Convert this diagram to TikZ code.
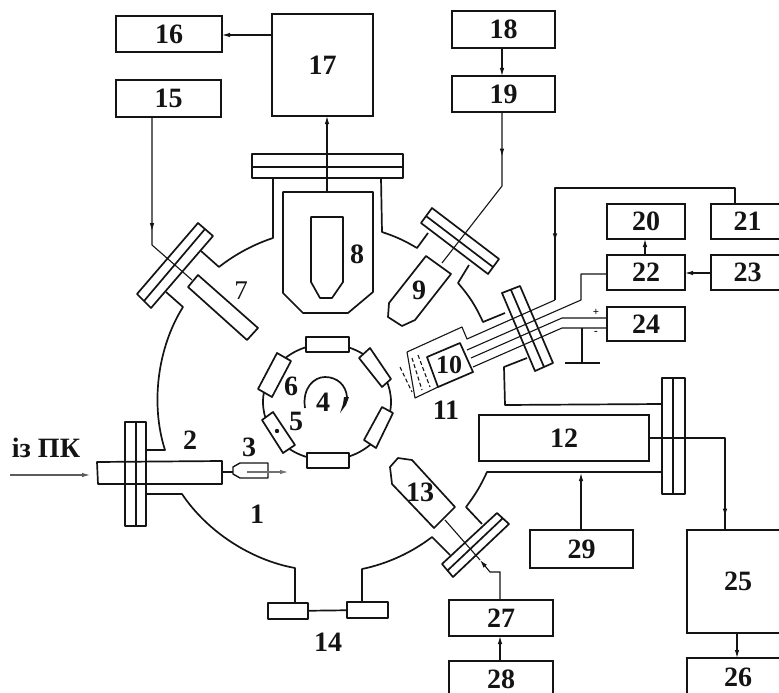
\documentclass[tikz,border=0pt]{standalone}
\usepackage{fontspec}
\setmainfont{Liberation Serif}
\usetikzlibrary{arrows.meta,decorations.markings}
\definecolor{ink}{gray}{0.08}
\tikzset{
  wall/.style={draw=ink,line width=1.7pt,line join=round},
  thinw/.style={draw=ink,line width=1.1pt,line join=round},
  blk/.style={draw=ink,line width=2pt,rectangle,inner sep=0pt,outer sep=0pt,font=\fontsize{28}{28}\selectfont\bfseries,text=ink},
  lab/.style={inner sep=0pt,font=\fontsize{28}{28}\selectfont\bfseries,text=ink},
  tip/.style={-{Latex[length=8pt,width=4.5pt]},draw=ink,line width=1.1pt},
  midtip/.style={draw=ink,line width=1.1pt,line join=round,postaction={decorate},decoration={markings,mark=at position #1 with {\arrow{Latex[length=8pt,width=4.5pt]}}}},
  holder/.style={wall,fill=white}
}
\begin{document}
\begin{tikzpicture}[x=1pt,y=-1pt]
\useasboundingbox (0,0) rectangle (779,693);
% blocks
\node[blk,minimum width=106pt,minimum height=36pt] (b16) at (169,34) {16};
\node[blk,minimum width=105pt,minimum height=37pt] (b15) at (168.5,98.5) {15};
\node[blk,minimum width=101pt,minimum height=102pt] (b17) at (322.5,65) {17};
\node[blk,minimum width=103pt,minimum height=37pt] (b18) at (503.5,29.5) {18};
\node[blk,minimum width=103pt,minimum height=36pt] (b19) at (503.5,94) {19};
\node[blk,minimum width=78pt,minimum height=35pt] (b20) at (646,221.5) {20};
\node[blk,minimum width=78pt,minimum height=35pt] (b22) at (646,272.5) {22};
\node[blk,minimum width=78pt,minimum height=34pt] (b24) at (646,324) {24};
\node[blk,minimum width=73pt,minimum height=35pt] (b21) at (747.5,221.5) {21};
\node[blk,minimum width=73pt,minimum height=35pt] (b23) at (747.5,272.5) {23};
\node[blk,minimum width=103pt,minimum height=38pt] (b29) at (581.5,549) {29};
\node[blk,minimum width=104pt,minimum height=36pt] (b27) at (501,618) {27};
\node[blk,minimum width=104pt,minimum height=36pt] (b28) at (501,679) {28};
\node[blk,minimum width=102pt,minimum height=103pt] (b25) at (738,581.5) {25};
\node[blk,minimum width=102pt,minimum height=39pt] (b26) at (738,677.5) {26};
\node[blk,minimum width=170pt,minimum height=46pt] (b12) at (564,438) {12};

% flanges
\draw[wall] (252,154) rectangle (403,178) (252,167)--(403,167);
\draw[wall] (662,378) rectangle (685,494) (673,378)--(673,494);
\draw[wall] (125,422) rectangle (146,526) (136,422)--(136,526);
\draw[wall] (198,223)--(213,236)--(151,308)--(137,294)--cycle (205,229)--(144,301);
\draw[wall] (432,208)--(499,259)--(488,274)--(421,223)--cycle (426,216)--(493,267);
\draw[wall] (502,293)--(520,286)--(553,363)--(535,371)--cycle (511,290)--(544,367);
\draw[wall] (497,513)--(509,524)--(453,577)--(442,564)--cycle (503,518)--(447,571);

% chamber walls
\draw[wall] (273,179)--(273,238) to[bend right=10,looseness=.85] (219,267)--(201,251);
\draw[wall] (166,292)--(183,307) to[bend right=25,looseness=.85] (165,450)--(147,450);
\draw[wall] (147,494)--(182,494) to[bend right=23,looseness=.85] (295,568)--(295,602);
\draw[wall] (362,602)--(362,569) to[bend right=13,looseness=.85] (432,537)--(450,555);
\draw[wall] (482,524)--(466,507) to[bend right=6] (487,472)--(662,472);
\draw[wall] (662,404)--(505,405)--(504,367)--(527,358);
\draw[wall] (505,313)--(483,322) to[bend right=8] (458,283)--(469,265);
\draw[wall] (428,233)--(417,248) to[bend right=6] (382,232)--(381,178);

% port 14
\node[wall,rectangle,minimum width=40pt,minimum height=16pt,inner sep=0pt,outer sep=0pt] (p14a) at (288,611) {};
\node[wall,rectangle,minimum width=41pt,minimum height=16pt,inner sep=0pt,outer sep=0pt] (p14b) at (367.5,610) {};
\draw[wall] (p14a)--(p14b);

% inner parts
\draw[wall] (283,192)--(373,192)--(373,292)--(348,313)--(303,313)--(283,293)--cycle;
\draw[wall] (311,217)--(343,217)--(343,282)--(332,298)--(320,298)--(311,282)--cycle;
\draw[wall] (198,275)--(258,328)--(247,340)--(188,287)--cycle;
\draw[wall] (426,256)--(451,274)--(415,320)--(402,326)--(388,317)--(389,303)--cycle;
\draw[wall] (412,460)--(455,507)--(434,528)--(392,484)--(390,467)--(398,458)--cycle;

% source 2 and 3
\draw[wall] (97,462)--(222,461)--(222,484)--(98,484)--cycle;
\draw[wall] (222,472)--(233,472);
\draw[wall,line width=1.4pt] (233,467)--(240,463)--(268,463)--(268,478)--(240,478)--(233,474)--cycle;
\draw[tip,draw=ink!60] (247,472)--(288,472);
\draw[tip,draw=ink!70] (10,475)--(90,475);

% rotor
\draw[wall] (327,402) ellipse [x radius=64,y radius=58];
\draw[holder] (306,337) rectangle (349,352);
\draw[holder] (307,453) rectangle (349,468);
\draw[holder] (370,348)--(391,379)--(382,387)--(359,358)--cycle;
\draw[holder] (382,407)--(393,413)--(376,448)--(364,440)--cycle;
\draw[holder] (277,353)--(291,361)--(272,397)--(258,389)--cycle;
\draw[holder] (273,412)--(295,445)--(283,453)--(262,420)--cycle;
\fill[ink] (277,431) circle (2.2);
\draw[wall] (305,408) .. controls (302,388) and (314,377) .. (325,377) .. controls (337,377) and (346,385) .. (347,397);
\fill[ink] (349,397)--(346,405)--(340,413)--(343,404)--(344,397)--cycle;

% section 10/11
\draw[wall] (427,357)--(460,343)--(473,372)--(438,387)--cycle;
\draw[thinw] (407,352)--(462,327)--(467,339)--(555,300);
\draw[thinw] (407,352)--(415,398)--(438,387);
\draw[thinw,dash pattern=on 4pt off 2.5pt] (400,367)--(412,392);
\draw[thinw,dash pattern=on 4pt off 2.5pt] (412,358)--(422,390);
\draw[thinw,dash pattern=on 4pt off 2.5pt] (418,355)--(430,387);
\coordinate (w22a) at (467,350);
\coordinate (w24p) at (471,358);
\coordinate (w24m) at (473,367);
\draw[thinw] (w22a)--(581,300)--(581,274)--(b22.west|-0,274);
\draw[thinw] (w24p)--(562,318)--(b24.west|-0,318);
\draw[thinw] (w24m)--(562,328)--(b24.west|-0,328);
\coordinate (gnd) at (582,363);
\draw[thinw] (582,328)--(gnd);
\draw[wall,line width=2.2pt] (565,363)--(600,363);
\node[inner sep=0pt,font=\fontsize{11}{11}\selectfont\bfseries] (plus) at (596,312) {+};
\node[inner sep=0pt,font=\fontsize{11}{11}\selectfont\bfseries] (minus) at (596,333) {-};

% connectors
\draw[tip] (b17.west|-0,35)--(b16.east|-0,35);
\draw[tip] (327,192)--(327,116);
\draw[midtip=.63] (152,117)--(152,245)--(192,280);
\draw[tip] (b18.south-|502,0)--(b19.north-|502,0);
\draw[midtip=.26] (502,112)--(502,186)--(442,263);
\draw[midtip=.81] (735,204)--(735,188)--(555,188)--(555,300);
\draw[tip] (645,255)--(645,239);
\draw[tip] (b23.west|-0,273)--(b22.east|-0,273);
\draw[midtip=.92] (649,438)--(725,438)--(725,530);
\draw[tip] (b29.north-|581,0)--(581,473);
\draw[thinw] (445,520)--(480,560);
\draw[tip] (500,600)--(500,572)--(490,572)--(480,560);
\draw[tip] (b28.north-|500,0)--(b27.south-|500,0);
\draw[tip] (b25.south-|737,0)--(b26.north-|737,0);

% labels
\node[lab] (t1) at (257,514) {1};
\node[lab] (t2) at (190,440) {2};
\node[lab] (t3) at (249,447) {3};
\node[lab] (t4) at (323,402) {4};
\node[lab] (t5) at (296,421) {5};
\node[lab] (t6) at (291,386) {6};
\node[lab,font=\fontsize{27}{27}\selectfont] (t7) at (241,291) {7};
\node[lab] (t8) at (357,254) {8};
\node[lab] (t9) at (419,290) {9};
\node[lab,font=\fontsize{26}{26}\selectfont\bfseries] (t10) at (449,365) {10};
\node[lab] (t11) at (446,410) {11};
\node[lab] (t13) at (420,492) {13};
\node[lab] (t14) at (328,642) {14};
\node[lab] (tin) at (46,448) {із ПК};
\end{tikzpicture}
\end{document}
